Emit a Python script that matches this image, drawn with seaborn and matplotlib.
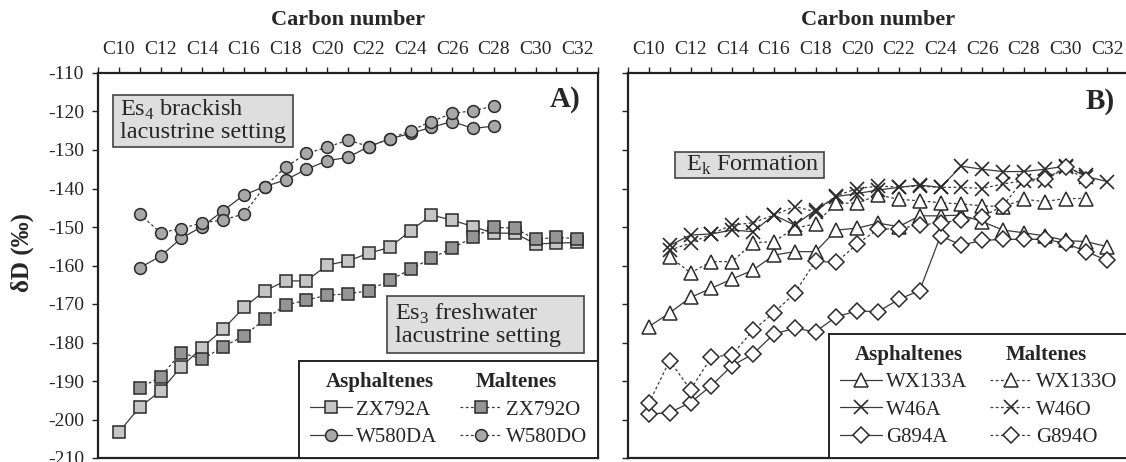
import matplotlib
matplotlib.use("Agg")
import matplotlib.pyplot as plt
from matplotlib.lines import Line2D
from matplotlib.patches import Rectangle
import seaborn as sns

# ---- values (dD, permil) ----
carbon_ticks = list(range(9, 34))
carbon_labels = ["C%d" % c if c % 2 == 0 and 10 <= c <= 32 else "" for c in carbon_ticks]
dd_ticks = list(range(-210, -109, 10))
dd_labels = [str(v) for v in dd_ticks]

# A) Es3 / Es4 samples
c_zx792a = list(range(10, 33))
zx792a = [-203.3, -196.8, -192.6, -186.3, -181.3, -176.6, -170.9, -166.6, -164.0,
          -164.0, -159.9, -158.8, -156.8, -155.3, -151.0, -146.9, -148.2, -149.9,
          -151.6, -151.6, -154.4, -154.2, -154.0]
c_zx792o = list(range(11, 33))
zx792o = [-191.9, -188.9, -182.6, -184.4, -181.1, -178.3, -174.0, -170.3, -169.0,
          -167.7, -167.4, -166.5, -163.8, -161.0, -158.1, -155.5, -152.7, -150.1,
          -150.3, -153.2, -152.7, -153.0]
c_w580da = list(range(11, 29))
w580da = [-160.6, -157.6, -152.9, -149.9, -145.8, -141.7, -139.5, -137.8, -135.0,
          -132.8, -131.9, -129.1, -127.1, -125.7, -124.1, -122.6, -124.4, -123.8]
c_w580do = list(range(11, 29))
w580do = [-146.6, -151.5, -150.4, -148.9, -148.2, -146.6, -139.5, -134.5, -130.9,
          -129.3, -127.4, -129.1, -127.1, -125.0, -122.6, -120.5, -119.8, -118.6]

# B) Ek formation samples
c_wx133a = list(range(10, 33))
wx133a = [-175.9, -172.3, -168.3, -165.9, -163.5, -161.2, -157.3, -156.4, -156.4,
          -150.8, -150.3, -149.0, -149.9, -147.1, -147.1, -146.9, -148.6, -150.8,
          -151.5, -152.3, -153.5, -153.8, -155.1]
c_wx133o = list(range(11, 32))
wx133o = [-157.7, -161.9, -159.0, -159.0, -154.1, -153.8, -150.3, -149.2, -143.8,
          -143.8, -141.7, -142.8, -143.2, -143.7, -144.0, -144.5, -144.7, -142.8,
          -143.4, -142.6, -142.6]
c_w46a = list(range(11, 33))
w46a = [-154.8, -152.1, -151.8, -150.8, -151.2, -146.9, -149.5, -145.6, -142.1,
        -141.3, -140.4, -139.7, -139.1, -139.7, -134.2, -135.0, -135.6, -135.6,
        -135.0, -134.2, -136.9, -138.2]
c_w46o = list(range(11, 32))
w46o = [-156.0, -154.2, -151.8, -149.5, -148.9, -146.9, -144.7, -146.0, -141.9,
        -140.0, -139.4, -139.6, -139.4, -139.7, -139.7, -140.0, -138.8, -138.0,
        -138.0, -134.5, -136.5]
c_g894a = list(range(10, 33))
g894a = [-198.6, -198.2, -195.6, -191.2, -186.0, -183.0, -177.8, -176.3, -177.2,
         -173.3, -171.8, -172.0, -168.8, -166.5, -152.3, -154.7, -153.5, -153.2,
         -153.2, -153.2, -154.2, -156.4, -158.7]
c_g894o = list(range(10, 32))
g894o = [-195.8, -184.7, -192.3, -183.8, -183.2, -176.8, -172.3, -167.2, -158.9,
         -159.2, -154.4, -150.6, -150.4, -149.5, -148.9, -148.2, -147.3, -144.5,
         -137.6, -137.6, -134.5, -137.8]

# ---- styles ----
sns.set_style("ticks")
plt.rcParams["font.family"] = ["Liberation Serif", "DejaVu Serif"]
plt.rcParams["mathtext.fontset"] = "custom"
plt.rcParams["mathtext.rm"] = "Liberation Serif"

LINE = "#3a3a3a"
DASH = (0, (2.2, 2.0))
base = dict(color=LINE, lw=0.9, markeredgecolor="#2a2a2a", markeredgewidth=1.1, markersize=8.5)
st = {
    "ZX792A": dict(base, marker="s", markerfacecolor="#c6c6c6", linestyle="-"),
    "ZX792O": dict(base, marker="s", markerfacecolor="#959595", linestyle=DASH),
    "W580DA": dict(base, marker="o", markerfacecolor="#a8a8a8", linestyle="-"),
    "W580DO": dict(base, marker="o", markerfacecolor="#a8a8a8", linestyle=DASH),
    "WX133A": dict(base, marker="^", markerfacecolor="white", linestyle="-", markersize=10),
    "WX133O": dict(base, marker="^", markerfacecolor="white", linestyle=DASH, markersize=10),
    "W46A": dict(base, marker="x", markerfacecolor="none", linestyle="-", markersize=10, markeredgewidth=1.2),
    "W46O": dict(base, marker="x", markerfacecolor="none", linestyle=DASH, markersize=10, markeredgewidth=1.2),
    "G894A": dict(base, marker="D", markerfacecolor="white", linestyle="-", markersize=8),
    "G894O": dict(base, marker="D", markerfacecolor="white", linestyle=DASH, markersize=8),
}

fig = plt.figure(figsize=(11.26, 4.62), dpi=100)
ax1 = fig.add_axes([98 / 1126, 4 / 462, 500 / 1126, 385 / 462])
ax2 = fig.add_axes([628 / 1126, 4 / 462, 500 / 1126, 385 / 462])

series_a = [("ZX792A", c_zx792a, zx792a), ("ZX792O", c_zx792o, zx792o),
            ("W580DA", c_w580da, w580da), ("W580DO", c_w580do, w580do)]
series_b = [("WX133A", c_wx133a, wx133a), ("WX133O", c_wx133o, wx133o),
            ("W46A", c_w46a, w46a), ("W46O", c_w46o, w46o),
            ("G894A", c_g894a, g894a), ("G894O", c_g894o, g894o)]

for ax, series in [(ax1, series_a), (ax2, series_b)]:
    for name, cx, vals in series:
        sns.lineplot(x=cx, y=vals, ax=ax, errorbar=None, legend=False, **st[name])

for ax in (ax1, ax2):
    ax.set_xlim(9, 33)
    ax.set_ylim(-210, -110)
    ax.xaxis.tick_top()
    ax.xaxis.set_label_position("top")
    ax.set_xticks(carbon_ticks)
    ax.set_xticklabels(carbon_labels, fontsize=14)
    ax.set_yticks(dd_ticks)
    ax.tick_params(axis="both", direction="out", length=4, width=1.0, color="#222")
    ax.tick_params(axis="x", pad=7)
    ax.tick_params(axis="y", pad=6)
    for s in ax.spines.values():
        s.set_visible(True)
        s.set_linewidth(1.6)
        s.set_color("#222")
    ax.set_xlabel("Carbon number", fontsize=16, fontweight="bold", labelpad=11)
    ax.set_facecolor("white")

ax1.set_yticklabels(dd_labels, fontsize=14)
ax2.set_yticklabels([])
ax1.set_ylabel("δD (‰)", fontsize=18, fontweight="bold")
ax1.yaxis.set_label_coords(-0.128, 0.535)

# grey annotation boxes
for ax, (x0, x1, y0, y1) in [(ax1, (0.030, 0.390, 0.808, 0.943)),
                             (ax1, (0.578, 0.972, 0.273, 0.421)),
                             (ax2, (0.094, 0.392, 0.727, 0.795))]:
    ax.add_patch(Rectangle((x0, y0), x1 - x0, y1 - y0, transform=ax.transAxes,
                           fc="#dedede", ec="#444", lw=1.2, zorder=4))
ax1.text(0.044, 0.877, "Es$_{\\mathregular{4}}$ brackish\nlacustrine setting", transform=ax1.transAxes,
         fontsize=17.5, va="center", ha="left", linespacing=1.05, zorder=5)
ax1.text(0.594, 0.347, "Es$_{\\mathregular{3}}$ freshwater\nlacustrine setting", transform=ax1.transAxes,
         fontsize=17.5, va="center", ha="left", linespacing=1.05, zorder=5)
ax2.text(0.116, 0.761, "E$_{\\mathregular{k}}$ Formation", transform=ax2.transAxes,
         fontsize=17.5, va="center", ha="left", zorder=5)
ax1.text(0.964, 0.93, "A)", transform=ax1.transAxes, fontsize=21, fontweight="bold",
         ha="right", va="center")
ax2.text(0.974, 0.927, "B)", transform=ax2.transAxes, fontsize=21, fontweight="bold",
         ha="right", va="center")

HEADERS = ("Asphaltenes", "Maltenes")


def make_legend(ax, asph, malt):
    blank = Line2D([], [], linestyle="none")
    handles = [blank] + [Line2D([], [], **st[n]) for n in asph] + \
              [blank] + [Line2D([], [], **st[n]) for n in malt]
    labels = [HEADERS[0]] + asph + [HEADERS[1]] + malt
    leg = ax.legend(handles, labels, ncol=2, loc="lower right", bbox_to_anchor=(1, 0),
                    borderaxespad=0, fontsize=15, handlelength=2.0, handletextpad=0.2,
                    columnspacing=1.1, labelspacing=0.38, borderpad=0.52,
                    fancybox=False, framealpha=1, edgecolor="#222")
    leg.get_frame().set_linewidth(1.4)
    leg.set_zorder(6)
    for t in leg.get_texts():
        if t.get_text() in HEADERS:
            t.set_fontweight("bold")
    # let the bold headers start near the left end of the line samples
    for col in leg._legend_handle_box.get_children():
        for row in col.get_children():
            da, ta = row.get_children()
            if ta._text.get_text() in HEADERS:
                da.width = 8
    return leg


make_legend(ax1, ["ZX792A", "W580DA"], ["ZX792O", "W580DO"])
make_legend(ax2, ["WX133A", "W46A", "G894A"], ["WX133O", "W46O", "G894O"])

fig.savefig("out.png", dpi=100)
